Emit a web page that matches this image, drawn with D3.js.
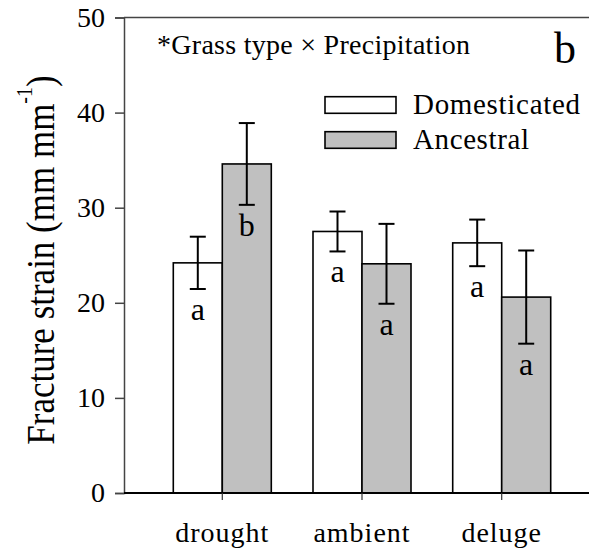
<!DOCTYPE html>
<html>
<head>
<meta charset="utf-8">
<script src="https://cdn.jsdelivr.net/npm/d3@7"></script>
<style>
  html, body { margin: 0; padding: 0; background: #fff; }
  svg { display: block; }
  text { font-family: "Liberation Serif", "Times New Roman", serif; fill: #000; }
</style>
</head>
<body>
<svg id="chart" width="589" height="552"></svg>
<script>
// Precipitation treatments and grass types
const categories = ["drought", "ambient", "deluge"];
const seriesNames = ["Domesticated", "Ancestral"];
// Mean fracture strain (mm mm-1) and standard errors
const domesticatedMean = [24.2, 27.5, 26.3];
const domesticatedErr = [2.75, 2.1, 2.45];
const ancestralMean = [34.6, 24.1, 20.6];
const ancestralErr = [4.3, 4.2, 4.9];
// Post-hoc group letters
const domesticatedLetters = ["a", "a", "a"];
const ancestralLetters = ["b", "a", "a"];
const yTicks = [0, 10, 20, 30, 40, 50];

const fills = ["#ffffff", "#c0c0c0"];
const serif = "Liberation Serif, Times New Roman, serif";
const svg = d3.select("#chart");

const x = d3.scaleBand().domain(categories).range([124, 600])
  .paddingInner(0).paddingOuter(0.2036);
const y = d3.scaleLinear().domain([0, 50]).range([493, 17.5]);
const barW = 49;

// Rows: one per bar
const rows = [];
categories.forEach((c, i) => {
  rows.push({cat: c, s: 0, mean: domesticatedMean[i], err: domesticatedErr[i], letter: domesticatedLetters[i]});
  rows.push({cat: c, s: 1, mean: ancestralMean[i], err: ancestralErr[i], letter: ancestralLetters[i]});
});
const cx = d => x(d.cat) + x.bandwidth() / 2 + (d.s === 0 ? -barW / 2 : barW / 2);

// Frame line along the top
svg.append("line").attr("x1", 124).attr("x2", 600)
  .attr("y1", y(50)).attr("y2", y(50))
  .attr("stroke", "#444").attr("stroke-width", 1.5);

// Y axis
const yAxis = svg.append("g").attr("transform", "translate(124,0)")
  .call(d3.axisLeft(y).tickValues(yTicks).tickSize(9).tickPadding(10).tickFormat(d3.format("d")));
yAxis.select(".domain").attr("stroke", "#444").attr("stroke-width", 1.5);
yAxis.selectAll(".tick line").attr("stroke", "#444").attr("stroke-width", 1.5);
yAxis.selectAll(".tick text").attr("font-size", 28)
  .attr("font-family", serif).attr("fill", "#000");

// Bars
svg.append("g").selectAll("rect").data(rows).join("rect")
  .attr("x", d => cx(d) - barW / 2)
  .attr("y", d => y(d.mean))
  .attr("width", barW)
  .attr("height", d => y(0) - y(d.mean))
  .attr("fill", d => fills[d.s])
  .attr("stroke", "#000").attr("stroke-width", 1.6);

// X axis (baseline with category ticks below)
const xAxis = svg.append("g").attr("transform", `translate(0,${y(0)})`)
  .call(d3.axisBottom(x).tickSize(7).tickPadding(22).tickSizeOuter(0));
xAxis.select(".domain").attr("stroke", "#000").attr("stroke-width", 2).attr("d", `M124,0H600`);
xAxis.selectAll(".tick line").attr("stroke", "#333").attr("stroke-width", 1.2);
xAxis.selectAll(".tick text").attr("font-size", 28)
  .attr("font-family", serif).attr("fill", "#000")
  .attr("letter-spacing", "1px");

// Error bars
const eb = svg.append("g").attr("stroke", "#000").attr("stroke-width", 2);
eb.selectAll("line.v").data(rows).join("line").attr("class", "v")
  .attr("x1", cx).attr("x2", cx)
  .attr("y1", d => y(d.mean + d.err)).attr("y2", d => y(d.mean - d.err));
eb.selectAll("line.t").data(rows).join("line").attr("class", "t")
  .attr("x1", d => cx(d) - 8).attr("x2", d => cx(d) + 8)
  .attr("y1", d => y(d.mean + d.err)).attr("y2", d => y(d.mean + d.err));
eb.selectAll("line.b").data(rows).join("line").attr("class", "b")
  .attr("x1", d => cx(d) - 8).attr("x2", d => cx(d) + 8)
  .attr("y1", d => y(d.mean - d.err)).attr("y2", d => y(d.mean - d.err));

// Group letters below the error bars
svg.append("g").selectAll("text").data(rows).join("text")
  .attr("x", cx).attr("y", d => y(d.mean - d.err) + 31)
  .attr("text-anchor", "middle").attr("font-size", 32)
  .text(d => d.letter);

// Interaction annotation and panel label
svg.append("text").attr("x", 157).attr("y", 54).attr("font-size", 28)
  .attr("textLength", 313).attr("lengthAdjust", "spacing")
  .text("*Grass type \u00d7 Precipitation");
svg.append("text").attr("x", 554).attr("y", 63).attr("font-size", 44).text("b");

// Legend
const legend = svg.append("g");
seriesNames.forEach((name, i) => {
  const ly = 96.7 + i * 35;
  legend.append("rect").attr("x", 325).attr("y", ly).attr("width", 71).attr("height", 16.6)
    .attr("fill", fills[i]).attr("stroke", "#000").attr("stroke-width", 1.6);
  legend.append("text").attr("x", 413).attr("y", ly + 17.5).attr("font-size", 29)
    .attr("textLength", i === 0 ? 167 : 116).attr("lengthAdjust", "spacing")
    .text(name);
});

// Y axis title
const yt = svg.append("text")
  .attr("transform", "translate(54,260) scale(1.15,1) rotate(-90)")
  .attr("text-anchor", "middle").attr("font-size", 35);
yt.append("tspan").text("Fracture strain (mm mm");
yt.append("tspan").attr("font-size", 20).attr("dy", -19).text("-1");
yt.append("tspan").attr("dy", 19).text(")");
</script>
</body>
</html>
